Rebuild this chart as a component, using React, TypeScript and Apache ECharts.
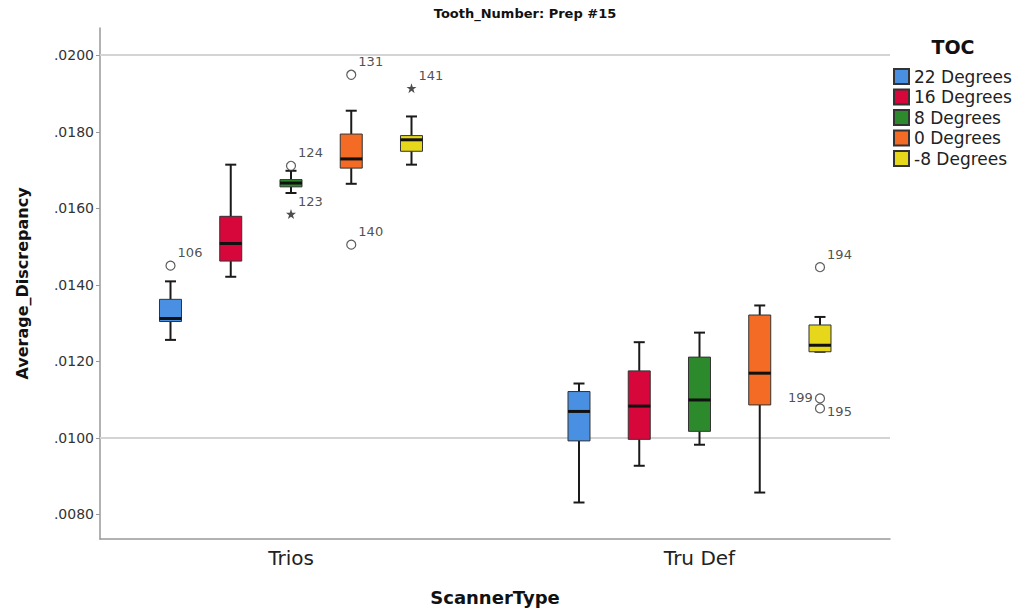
import React, { useEffect, useRef } from "react";
import * as echarts from "echarts";

// ---------- data ----------
const chartTitle = "Tooth_Number: Prep #15";
const legendTitle = "TOC";
const scannerTypes = ["Trios", "Tru Def"];
const tocNames = ["22 Degrees", "16 Degrees", "8 Degrees", "0 Degrees", "-8 Degrees"];
const tocColors = ["#4a90e2", "#d7063b", "#2c8a2c", "#f36b25", "#e6d71a"];

// [min, q1, median, q3, max] for Trios, Tru Def
const deg22 = [
  [0.01256, 0.01304, 0.01312, 0.01362, 0.01409],
  [0.00831, 0.00992, 0.01069, 0.01121, 0.01142],
];
const deg16 = [
  [0.01421, 0.01462, 0.01508, 0.01579, 0.01714],
  [0.00927, 0.00996, 0.01083, 0.01175, 0.0125],
];
const deg8 = [
  [0.0164, 0.01656, 0.01666, 0.01675, 0.01698],
  [0.00982, 0.01017, 0.01099, 0.01211, 0.01275],
];
const deg0 = [
  [0.01664, 0.01705, 0.01729, 0.01794, 0.01855],
  [0.00857, 0.01086, 0.01169, 0.01321, 0.01346],
];
const degMinus8 = [
  [0.01714, 0.01749, 0.01779, 0.0179, 0.0184],
  [0.01225, 0.01225, 0.01242, 0.01295, 0.01316],
];
const boxStats = [deg22, deg16, deg8, deg0, degMinus8];

// outliers
const outlierIds = ["106", "124", "123", "131", "140", "141", "194", "199", "195"];
const outlierScanner = [0, 0, 0, 0, 0, 0, 1, 1, 1];
const outlierToc = [0, 2, 2, 3, 3, 4, 4, 4, 4];
const outlierValues = [0.0145, 0.01711, 0.01585, 0.01949, 0.01505, 0.01914, 0.01446, 0.01103, 0.01077];
const outlierExtreme = [false, false, true, false, false, true, false, false, false];

const yTicks = [0.008, 0.01, 0.012, 0.014, 0.016, 0.018, 0.02];
const yTitle = "Average_Discrepancy";
const xTitle = "ScannerType";

// ---------- styles ----------
const BOX_STEP = 60.25;
const BOX_W = 22;
const CAP_W = 11;
const FONT = "DejaVu Sans";
const STAR =
  "path://M50,0 L61.8,35.1 98.1,35.1 68.6,56.7 79.9,91.8 50,70 20.1,91.8 31.4,56.7 1.9,35.1 38.2,35.1 Z";
const labelPlacement: Record<string, { position: string; offset: number[] }> = {
  "199": { position: "left", offset: [0, -1] },
  "195": { position: "right", offset: [0, 3] },
};

function renderBox(params: any, api: any) {
  const cat = api.value(0);
  const off = (params.seriesIndex - 2) * BOX_STEP;
  const p = (v: number) => api.coord([cat, v]);
  const cx = p(api.value(1))[0] + off;
  const yMin = p(api.value(1))[1];
  const yQ1 = p(api.value(2))[1];
  const yMed = p(api.value(3))[1];
  const yQ3 = p(api.value(4))[1];
  const yMax = p(api.value(5))[1];
  const hw = BOX_W / 2;
  const cw = CAP_W / 2;
  const ws = { stroke: "#1a1a1a", lineWidth: 2 };
  return {
    type: "group",
    children: [
      { type: "line", shape: { x1: cx, y1: yMax, x2: cx, y2: yQ3 }, style: ws },
      { type: "line", shape: { x1: cx, y1: yQ1, x2: cx, y2: yMin }, style: ws },
      { type: "line", shape: { x1: cx - cw, y1: yMax, x2: cx + cw, y2: yMax }, style: ws },
      { type: "line", shape: { x1: cx - cw, y1: yMin, x2: cx + cw, y2: yMin }, style: ws },
      {
        type: "rect",
        shape: { x: cx - hw, y: yQ3, width: BOX_W, height: yQ1 - yQ3 },
        style: { fill: api.visual("color"), stroke: "#333", lineWidth: 1 },
      },
      {
        type: "line",
        shape: { x1: cx - hw, y1: yMed, x2: cx + hw, y2: yMed },
        style: { stroke: "#111", lineWidth: 3 },
      },
    ],
  };
}

export default function App() {
  const ref = useRef<HTMLDivElement>(null);
  useEffect(() => {
    if (!ref.current) return;
    const chart = echarts.init(ref.current, undefined, { renderer: "svg" });

    const boxSeries = tocNames.map((name, i) => ({
      name,
      type: "custom",
      renderItem: renderBox,
      encode: { x: 0, y: [1, 2, 3, 4, 5] },
      itemStyle: { color: tocColors[i], borderColor: "#333", borderWidth: 1 },
      z: 2,
      data: boxStats[i].map((s, c) => [c, ...s]),
      ...(i === 0
        ? {
            markLine: {
              silent: true,
              symbol: "none",
              z: 1,
              label: { show: false },
              lineStyle: { color: "#d3d3d3", width: 1.5, type: "solid" },
              emphasis: { disabled: true },
              data: yTicks.map((v) => ({ yAxis: v })),
            },
          }
        : {}),
    }));

    const outlierData = outlierIds.map((id, k) => {
      const lp = labelPlacement[id] || { position: "right", offset: [0, -13] };
      return {
        name: id,
        value: [outlierScanner[k], outlierValues[k]],
        symbol: outlierExtreme[k] ? STAR : "circle",
        symbolSize: outlierExtreme[k] ? 10 : 9,
        symbolOffset: [(outlierToc[k] - 2) * BOX_STEP, 0],
        itemStyle: outlierExtreme[k]
          ? { color: "#222" }
          : { color: "#fff", borderColor: "#333", borderWidth: 1.2 },
        label: {
          show: true,
          formatter: id,
          position: lp.position,
          offset: lp.offset,
          distance: 2,
          fontSize: 13,
          fontFamily: FONT,
          color: "#222",
        },
      };
    });

    chart.setOption({
      animation: false,
      backgroundColor: "#fff",
      grid: { left: 100, right: 129, top: 28, bottom: 71, containLabel: false },
      graphic: [
        {
          type: "text",
          x: 525,
          y: 13,
          style: {
            text: chartTitle,
            font: `bold 13px ${FONT}`,
            fill: "#111",
            align: "center",
            verticalAlign: "middle",
          },
        },
        {
          type: "text",
          x: 953,
          y: 47,
          style: {
            text: legendTitle,
            font: `bold 19px ${FONT}`,
            fill: "#111",
            align: "center",
            verticalAlign: "middle",
          },
        },
      ],
      legend: {
        orient: "vertical",
        left: 893,
        top: 68,
        padding: 0,
        itemWidth: 15,
        itemHeight: 15,
        itemGap: 3.5,
        icon: "rect",
        selectedMode: false,
        data: tocNames,
        textStyle: { fontSize: 17, fontFamily: FONT, color: "#222" },
      },
      xAxis: {
        type: "value",
        min: -0.46756,
        max: 1.46634,
        name: xTitle,
        nameLocation: "middle",
        nameGap: 49,
        nameTextStyle: { fontSize: 18, fontWeight: "bold", fontFamily: FONT, color: "#111" },
        splitLine: { show: false },
        axisTick: { show: false },
        axisLine: { show: true, onZero: false, lineStyle: { color: "#999", width: 1.5 } },
        axisLabel: {
          customValues: [0, 1],
          formatter: (v: number) => scannerTypes[Math.round(v)] ?? "",
          fontSize: 20,
          fontFamily: FONT,
          color: "#222",
          margin: 9,
        },
      },
      yAxis: {
        type: "value",
        min: 0.007356,
        max: 0.020712,
        name: yTitle,
        nameLocation: "middle",
        nameRotate: 90,
        nameGap: 70,
        nameTextStyle: { fontSize: 16, fontWeight: "bold", fontFamily: FONT, color: "#111" },
        splitLine: { show: false },
        axisLine: { show: true, onZero: false, lineStyle: { color: "#999", width: 1.5 } },
        axisTick: { show: true, customValues: yTicks, length: 4, lineStyle: { color: "#999" } },
        axisLabel: {
          customValues: yTicks,
          formatter: (v: number) => v.toFixed(4).replace(/^0/, ""),
          fontSize: 14,
          fontFamily: FONT,
          color: "#333",
          margin: 6,
        },
      },
      series: [
        ...boxSeries,
        {
          name: "outliers",
          type: "scatter",
          z: 3,
          data: outlierData,
        },
      ],
    });
    return () => chart.dispose();
  }, []);
  return (
    <div
      ref={ref}
      style={{ position: "absolute", left: 0, top: 0, width: 1019, height: 611, background: "#fff" }}
    />
  );
}
